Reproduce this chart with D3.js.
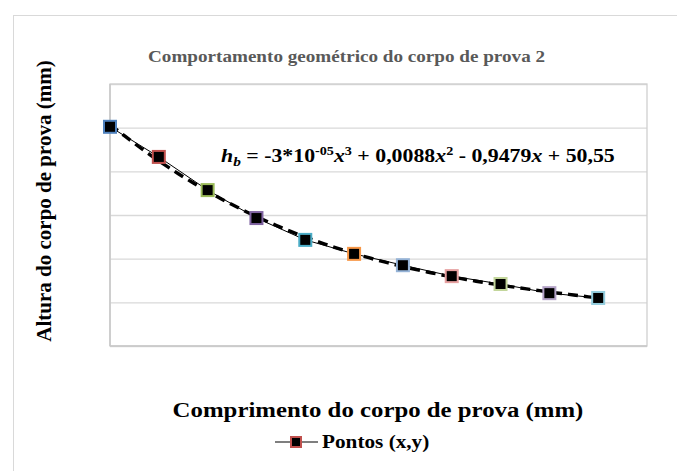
<!DOCTYPE html>
<html><head><meta charset="utf-8">
<script src="https://cdn.jsdelivr.net/npm/d3@7"></script>
<style>body{margin:0;background:#fff}svg{display:block}text{font-family:"Liberation Serif","Times New Roman",serif;font-weight:bold}</style>
</head><body>
<svg id="c" width="677" height="471"></svg>
<script>
const xValues = [0, 10, 20, 30, 40, 50, 60, 70, 80, 90, 100];
const yValues = [50.2, 43.3, 35.7, 29.3, 24.3, 21.1, 18.5, 16.0, 14.2, 12.1, 11.0];
const pointColors = ["#4f81bd","#c0504d","#9bbb59","#8064a2","#4bacc6","#f79646","#95b3d7","#e6a0a0","#c3d69b","#b3a2c7","#93cddd"];
const yTicks = [0, 10, 20, 30, 40, 50, 60];
const title = "Comportamento geométrico do corpo de prova 2";
const xTitle = "Comprimento do corpo de prova (mm)";
const yTitle = "Altura do corpo de prova (mm)";
const legendLabel = "Pontos (x,y)";
const SX = 1.18; // horizontal stretch of the reference text

const svg = d3.select("#c");
svg.append("rect").attr("x",13.5).attr("y",15.5).attr("width",700).attr("height",500)
  .attr("fill","none").attr("stroke","#d9d9d9");

const m = {l:110, r:647, t:84, b:346};
const x = d3.scaleLinear().domain([0,110]).range([m.l,m.r]);
const y = d3.scaleLinear().domain([0,60]).range([m.b,m.t]);

svg.append("g").selectAll("line").data(yTicks).join("line")
  .attr("x1",m.l).attr("x2",m.r).attr("y1",d=>y(d)+0.5).attr("y2",d=>y(d)+0.5)
  .attr("stroke","#d9d9d9").attr("stroke-width",1.3);
svg.append("rect").attr("x",m.l).attr("y",m.t).attr("width",m.r-m.l).attr("height",m.b-m.t)
  .attr("fill","none").attr("stroke","#cfcfcf").attr("stroke-width",1.3);
svg.append("line").attr("x1",m.l).attr("x2",m.l).attr("y1",m.t).attr("y2",m.b).attr("stroke","#c8c8c8").attr("stroke-width",1.5);
svg.append("line").attr("x1",m.l).attr("x2",m.r).attr("y1",m.b).attr("y2",m.b).attr("stroke","#c8c8c8").attr("stroke-width",1.5);

function cubicFit(xs, ys){
  const n=4, A=[...Array(n)].map(()=>Array(n+1).fill(0));
  xs.forEach((xv,k)=>{for(let i=0;i<n;i++){for(let j=0;j<n;j++)A[i][j]+=Math.pow(xv,i+j);A[i][n]+=ys[k]*Math.pow(xv,i);}});
  for(let i=0;i<n;i++){let p=i;for(let r=i+1;r<n;r++)if(Math.abs(A[r][i])>Math.abs(A[p][i]))p=r;[A[i],A[p]]=[A[p],A[i]];
    for(let r=0;r<n;r++)if(r!==i){const f=A[r][i]/A[i][i];for(let c=i;c<=n;c++)A[r][c]-=f*A[i][c];}}
  return A.map((row,i)=>row[n]/row[i]);
}
const coef = cubicFit(xValues, yValues);
const fitPts = d3.range(0, 100.01, 1).map(t=>[t, coef[0]+coef[1]*t+coef[2]*t*t+coef[3]*t*t*t]);

const pts = xValues.map((d,i)=>[d,yValues[i]]);
svg.append("path").datum(pts).attr("fill","none").attr("stroke","#000").attr("stroke-width",1)
  .attr("d", d3.line().x(d=>x(d[0])).y(d=>y(d[1])));
svg.append("path").datum(fitPts).attr("fill","none").attr("stroke","#000").attr("stroke-width",3.4)
  .attr("stroke-dasharray","10,6")
  .attr("d", d3.line().x(d=>x(d[0])).y(d=>y(d[1])));

svg.append("g").selectAll("rect").data(pts).join("rect")
  .attr("x",d=>x(d[0])-6).attr("y",d=>y(d[1])-6).attr("width",12).attr("height",12)
  .attr("fill","#000").attr("stroke",(d,i)=>pointColors[i]).attr("stroke-width",2);

// title
svg.append("text").attr("transform",`translate(148,62) scale(1.16,1)`).attr("fill","#595959").attr("font-size",16.5).text(title);

// equation
const eq = svg.append("text").attr("transform",`translate(221,162) scale(${SX},1)`).attr("font-size",18.5).attr("fill","#000");
eq.append("tspan").attr("font-style","italic").text("h");
eq.append("tspan").attr("font-style","italic").attr("font-size",13).attr("dy",4).text("b");
eq.append("tspan").attr("dy",-4).text(" = -3*10");
eq.append("tspan").attr("font-size",12).attr("dy",-7).text("-05");
eq.append("tspan").attr("font-style","italic").attr("dy",7).text("x");
eq.append("tspan").attr("font-size",12).attr("dy",-7).text("3");
eq.append("tspan").attr("dy",7).text(" + 0,0088");
eq.append("tspan").attr("font-style","italic").text("x");
eq.append("tspan").attr("font-size",12).attr("dy",-7).text("2");
eq.append("tspan").attr("dy",7).text(" - 0,9479");
eq.append("tspan").attr("font-style","italic").text("x");
eq.append("tspan").text(" + 50,55");

// axis titles
svg.append("text").attr("transform",`translate(378,417) scale(1.21,1)`).attr("text-anchor","middle").attr("font-size",20.5).text(xTitle);
svg.append("text").attr("transform","translate(51,201) rotate(-90)").attr("text-anchor","middle").attr("font-size",21).text(yTitle);

// legend
const lg = svg.append("g");
lg.append("line").attr("x1",275).attr("x2",318).attr("y1",442).attr("y2",442).attr("stroke","#000").attr("stroke-width",1.2);
lg.append("rect").attr("x",291).attr("y",437).attr("width",10).attr("height",10).attr("fill","#000").attr("stroke",pointColors[1]).attr("stroke-width",2);
lg.append("text").attr("transform",`translate(322,448) scale(${SX},1)`).attr("font-size",18).text(legendLabel);
</script>
</body></html>
